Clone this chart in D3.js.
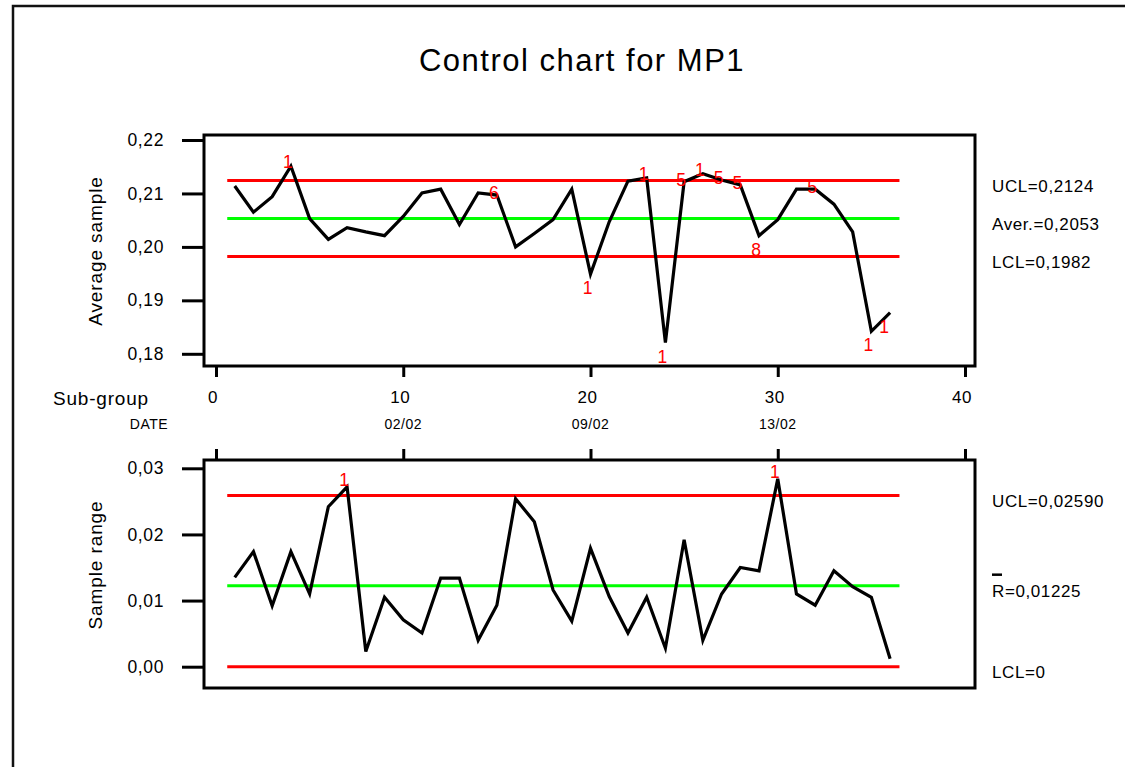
<!DOCTYPE html>
<html>
<head>
<meta charset="utf-8">
<script src="https://cdn.jsdelivr.net/npm/d3@7"></script>
<style>
  html, body { margin: 0; padding: 0; background: #fff; }
  svg { display: block; font-family: "Liberation Sans", Arial, sans-serif; }
</style>
</head>
<body>
<svg id="chart" width="1125" height="767"></svg>
<script>
// ---------------- DATA ----------------
const subgroups = d3.range(1, 37);
const sampleAverage = [
  0.2114, 0.2065, 0.2094, 0.2151, 0.2053, 0.2014, 0.2036, 0.2028, 0.2021, 0.2057,
  0.2101, 0.2108, 0.2042, 0.2101, 0.2097, 0.2000, 0.2025, 0.2051, 0.2108, 0.1949,
  0.2047, 0.2123, 0.2129, 0.1821, 0.2122, 0.2137, 0.2125, 0.2116, 0.2021, 0.2051,
  0.2108, 0.2108, 0.2080, 0.2028, 0.1842, 0.1877
];
const sampleRange = [
  0.0135, 0.0174, 0.0092, 0.0174, 0.0110, 0.0242, 0.0272, 0.0023, 0.0105, 0.0071,
  0.0051, 0.0134, 0.0134, 0.0040, 0.0093, 0.0254, 0.0219, 0.0116, 0.0069, 0.0179,
  0.0106, 0.0051, 0.0105, 0.0028, 0.0192, 0.0040, 0.0110, 0.0150, 0.0145, 0.0284,
  0.0110, 0.0093, 0.0145, 0.0121, 0.0105, 0.0012
];
const avgLimits = { ucl: 0.2124, cl: 0.2053, lcl: 0.1982 };
const rangeLimits = { ucl: 0.02590, cl: 0.01225, lcl: 0 };
const avgLimitLabels = ["UCL=0,2124", "Aver.=0,2053", "LCL=0,1982"];
const rangeLimitLabels = ["UCL=0,02590", "R=0,01225", "LCL=0"];

const xTicks = [0, 10, 20, 30, 40];
const dateTicks = [10, 20, 30];
const dateLabels = ["02/02", "09/02", "13/02"];
const avgTicks = [0.18, 0.19, 0.20, 0.21, 0.22];
const rangeTicks = [0.00, 0.01, 0.02, 0.03];

// rule-violation annotations (subgroup, rule number, side)
const avgAnnotIdx  = [4, 15, 20, 23, 24, 25, 26, 27, 28, 29, 32, 35, 36];
const avgAnnotText = ["1","6","1","1","1","5","1","5","5","8","5","1","1"];
const avgAnnotSide = ["above","on","below","above","below","on","above","on","on","below","on","below","below"];
const rngAnnotIdx  = [7, 30];
const rngAnnotText = ["1", "1"];
const rngAnnotSide = ["above", "above"];

// ---------------- DRAW ----------------
const svg = d3.select("#chart");
const fmt = d3.formatLocale({ decimal: ",", thousands: ".", grouping: [3], currency: ["", ""] });
const f2 = fmt.format(".2f");

svg.append("rect").attr("width", 1125).attr("height", 767).attr("fill", "#fff");
// outer border
svg.append("path").attr("d", "M13,767 L13,6 L1125,6")
  .attr("fill", "none").attr("stroke", "#111").attr("stroke-width", 2.5);

svg.append("text").attr("x", 582).attr("y", 60)
  .attr("text-anchor", "middle").attr("dominant-baseline", "central")
  .attr("font-size", 31).attr("letter-spacing", 1.5)
  .text("Control chart for MP1");

const frameL = 204, frameR = 975;
const x = d3.scaleLinear().domain([0, 40]).range([216, 965]);
const lineXs = [0.6, 36.5];

function panel(opts) {
  const g = svg.append("g");
  const y = opts.y;
  // frame
  g.append("rect").attr("x", frameL).attr("y", opts.top)
    .attr("width", frameR - frameL).attr("height", opts.bottom - opts.top)
    .attr("fill", "none").attr("stroke", "#000").attr("stroke-width", 3);
  // y axis
  const ya = g.append("g").attr("transform", `translate(${frameL},0)`)
    .call(d3.axisLeft(y).tickValues(opts.yTicks).tickFormat(f2).tickSize(22).tickPadding(18));
  ya.select(".domain").remove();
  ya.selectAll(".tick line").attr("stroke", "#000").attr("stroke-width", 3);
  ya.selectAll(".tick text").attr("font-size", 17.5).attr("fill", "#000")
    .attr("font-family", "Liberation Sans, Arial, sans-serif").attr("letter-spacing", 0.6);
  // x ticks
  const xa = g.append("g").attr("transform", `translate(0,${opts.xAxisY})`)
    .call((opts.xTop ? d3.axisTop(x) : d3.axisBottom(x)).tickValues(xTicks).tickSize(11).tickFormat(""));
  xa.select(".domain").remove();
  xa.selectAll(".tick line").attr("stroke", "#000").attr("stroke-width", 3);
  // y title
  g.append("text").attr("transform", `translate(95,${opts.titleY}) rotate(-90)`)
    .attr("text-anchor", "middle").attr("dominant-baseline", "central")
    .attr("font-size", 19).attr("letter-spacing", 0.9).text(opts.title);
  // control lines
  const lim = opts.limits;
  [["ucl", "#ff0000"], ["cl", "#00ff00"], ["lcl", "#ff0000"]].forEach(([k, c]) => {
    g.append("line").attr("x1", x(lineXs[0])).attr("x2", x(lineXs[1]))
      .attr("y1", y(lim[k])).attr("y2", y(lim[k]))
      .attr("stroke", c).attr("stroke-width", 3);
  });
  // data line
  g.append("path").datum(opts.values)
    .attr("fill", "none").attr("stroke", "#000").attr("stroke-width", 3.2)
    .attr("stroke-linejoin", "miter")
    .attr("d", d3.line().x((d, i) => x(subgroups[i])).y(d => y(d)));
  // limit labels
  ["ucl", "cl", "lcl"].forEach((k, i) => {
    g.append("text").attr("x", 992).attr("y", y(lim[k]) + 6)
      .attr("dominant-baseline", "central").attr("font-size", 17)
      .attr("letter-spacing", 0.6).text(opts.limitLabels[i]);
  });
  // annotations
  const dyMap = { above: opts.aboveDy, on: -2, below: 14 };
  opts.annIdx.forEach((s, i) => {
    const isLast = s === subgroups[subgroups.length - 1];
    g.append("text")
      .attr("x", x(s) - (isLast ? 6 : 3))
      .attr("y", y(opts.values[s - 1]) + dyMap[opts.annSide[i]])
      .attr("text-anchor", "middle").attr("dominant-baseline", "central")
      .attr("font-size", 17.5).attr("fill", "#ff0000").text(opts.annText[i]);
  });
  return g;
}

const yAvg = d3.scaleLinear().domain([0.18, 0.22]).range([353.8, 140]);
panel({
  y: yAvg, top: 135, bottom: 366, yTicks: avgTicks, xAxisY: 366, xTop: false,
  title: "Average sample", titleY: 251, limits: avgLimits, values: sampleAverage,
  limitLabels: avgLimitLabels, annIdx: avgAnnotIdx, annText: avgAnnotText, annSide: avgAnnotSide,
  aboveDy: -4
});

const yRng = d3.scaleLinear().domain([0, 0.03]).range([666.7, 468.3]);
const g2 = panel({
  y: yRng, top: 460, bottom: 688, yTicks: rangeTicks, xAxisY: 460, xTop: true,
  title: "Sample range", titleY: 565, limits: rangeLimits, values: sampleRange,
  limitLabels: rangeLimitLabels, annIdx: rngAnnotIdx, annText: rngAnnotText, annSide: rngAnnotSide,
  aboveDy: -7
});
// overbar on R
g2.append("line").attr("x1", 992).attr("x2", 1002)
  .attr("y1", yRng(rangeLimits.cl) - 11).attr("y2", yRng(rangeLimits.cl) - 11)
  .attr("stroke", "#000").attr("stroke-width", 2.5);

// sub-group axis labels
svg.append("text").attr("x", 101).attr("y", 398)
  .attr("text-anchor", "middle").attr("dominant-baseline", "central")
  .attr("font-size", 19).attr("letter-spacing", 0.8).text("Sub-group");
svg.selectAll(".xlab").data(xTicks).enter().append("text")
  .attr("x", d => x(d) - 3).attr("y", 397)
  .attr("text-anchor", "middle").attr("dominant-baseline", "central")
  .attr("font-size", 17).attr("letter-spacing", 0.6).text(d => d);
svg.append("text").attr("x", 149).attr("y", 424)
  .attr("text-anchor", "middle").attr("dominant-baseline", "central")
  .attr("font-size", 14).attr("letter-spacing", 0.5).text("DATE");
svg.selectAll(".dlab").data(dateTicks).enter().append("text")
  .attr("x", d => x(d)).attr("y", 424)
  .attr("text-anchor", "middle").attr("dominant-baseline", "central")
  .attr("font-size", 14).attr("letter-spacing", 0.5).text((d, i) => dateLabels[i]);
</script>
</body>
</html>
